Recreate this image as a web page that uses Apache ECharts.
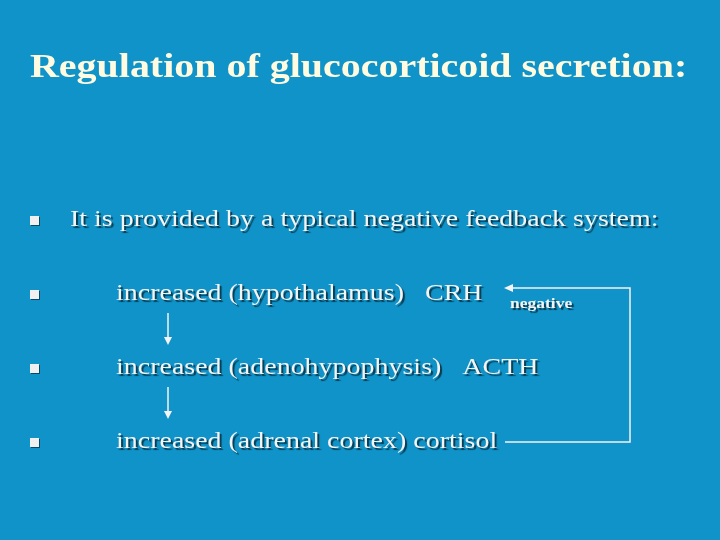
<!DOCTYPE html>
<html><head><meta charset="utf-8">
<script src="https://cdn.jsdelivr.net/npm/echarts@6/dist/echarts.min.js"></script>
<style>html,body{margin:0;padding:0;background:#1093c8}#c{width:720px;height:540px}</style>
</head><body><div id="c"></div>
<script>
const titleText = 'Regulation of glucocorticoid secretion:';
const bulletTexts = [
  'It is provided by a typical negative feedback system:',
  'increased (hypothalamus)   CRH',
  'increased (adenohypophysis)   ACTH',
  'increased (adrenal cortex) cortisol'
];
const feedbackLabel = 'negative';

const chart = echarts.init(document.getElementById('c'));
const font = '"Liberation Serif", "DejaVu Serif", serif';
const txtColor = '#f4f4f4';
const shadow = {textShadowColor:'rgba(0,0,0,0.6)', textShadowOffsetX:2, textShadowOffsetY:2, textShadowBlur:1};
const rowsY = [220, 294, 368, 442];
const textX = [70, 116, 116, 116];
const els = [];
els.push({type:'text', x:30, y:68, scaleX:1.175, style:Object.assign({text:titleText, font:'bold 34px '+font, fill:'#fffbe0', textVerticalAlign:'middle'}, {textShadowColor:'rgba(0,0,0,0.7)', textShadowOffsetX:2, textShadowOffsetY:2})});
bulletTexts.forEach((t,i)=>{
  els.push({type:'rect', shape:{x:30,y:rowsY[i]-4,width:9,height:9}, style:{fill:'#f0f0f0', shadowColor:'rgba(0,0,0,0.5)', shadowOffsetX:1, shadowOffsetY:1}});
  els.push({type:'text', x:textX[i], y:rowsY[i], scaleX:1.165, style:Object.assign({text:t, font:'24px '+font, fill:txtColor, textVerticalAlign:'middle'}, shadow)});
});
els.push({type:'text', x:510, y:304, scaleX:1.25, style:Object.assign({text:feedbackLabel, font:'bold 14px '+font, fill:txtColor, textVerticalAlign:'middle'}, shadow)});
const ln = {stroke:'#f4f4f4', lineWidth:1.5};
els.push({type:'polyline', shape:{points:[[505,442],[630,442],[630,288],[510,288]]}, style:ln});
els.push({type:'polygon', shape:{points:[[504,288],[513,284],[513,292]]}, style:{fill:'#f4f4f4'}});
[[313,345],[387,419]].forEach(([a,b])=>{
  els.push({type:'line', shape:{x1:168,y1:a,x2:168,y2:b-6}, style:ln});
  els.push({type:'polygon', shape:{points:[[168,b],[164,b-8],[172,b-8]]}, style:{fill:'#f4f4f4'}});
});
chart.setOption({backgroundColor:'#1093c8', graphic:{elements:els}});
</script></body></html>
